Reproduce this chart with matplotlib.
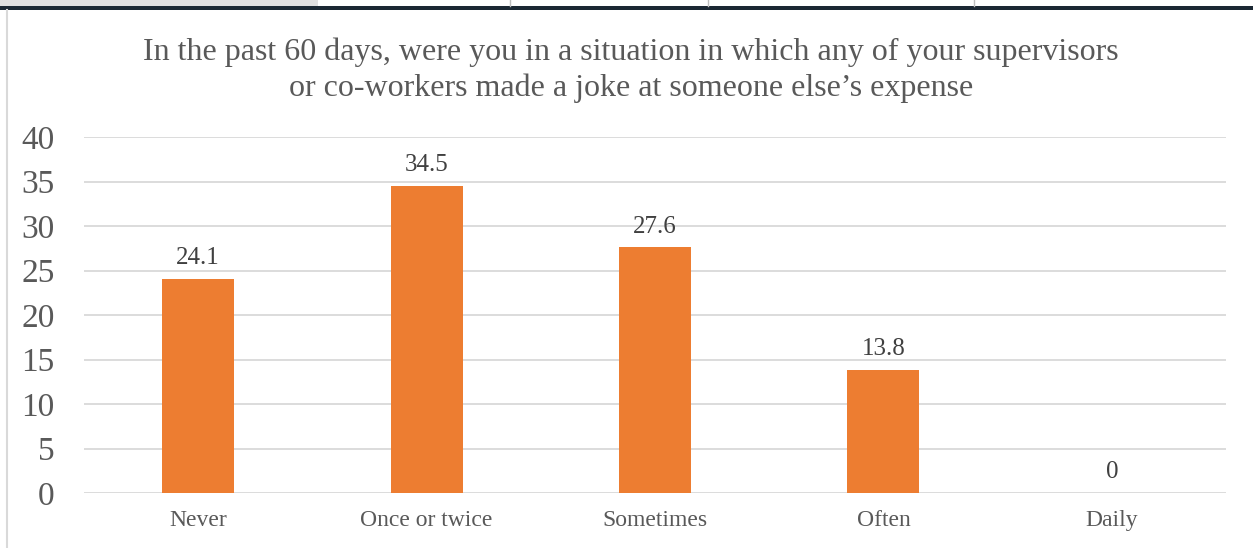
import numpy as np
import matplotlib.pyplot as plt
from matplotlib.patches import Rectangle
from matplotlib.lines import Line2D

categories = ['Never', 'Once or twice', 'Sometimes', 'Often', 'Daily']
values = [24.1, 34.5, 27.6, 13.8, 0]
yticks = [0, 5, 10, 15, 20, 25, 30, 35, 40]

title = ("In the past 60 days, were you in a situation in which any of your supervisors\n"
         "or co-workers made a joke at someone else\u2019s expense")

W, H = 1253, 548
bar_color = '#ED7D31'
grid_color = '#D9D9D9'
text_color = '#595959'

plt.rcParams['font.family'] = ['Liberation Serif', 'DejaVu Serif']

fig = plt.figure(figsize=(W / 100, H / 100), dpi=100)

# page strip above the chart frame
fig.add_artist(Rectangle((0, 1 - 6 / H), 318 / W, 6 / H, transform=fig.transFigure,
                         facecolor='#E0E0E0', edgecolor='none'))
fig.add_artist(Rectangle((0, 1 - 9.5 / H), 1, 3.5 / H, transform=fig.transFigure,
                         facecolor='#1B2833', edgecolor='none'))
for xs in [510, 708, 974]:
    fig.add_artist(Line2D([xs / W, xs / W], [1 - 6 / H, 1], transform=fig.transFigure,
                          color='#BFBFBF', lw=1))
fig.add_artist(Line2D([6.5 / W, 6.5 / W], [0, 1 - 10 / H], transform=fig.transFigure,
                      color='#D9D9D9', lw=1.5))

# axes: x 84..1226 px, y 137..493 px
ax = fig.add_axes([84 / W, 1 - 493 / H, (1226 - 84) / W, (493 - 137) / H])
x = np.arange(len(categories))
bars = ax.bar(x, values, width=0.315, color=bar_color, zorder=3)

ax.set_xlim(-0.5, len(categories) - 0.5)
ax.set_ylim(0, 40)
ax.set_yticks(yticks)
ax.set_xticks(x)
ax.set_xticklabels(categories, fontsize=17, color=text_color)
ax.tick_params(axis='y', labelsize=24, labelcolor=text_color, length=0, pad=21)
ax.tick_params(axis='x', length=0, pad=12)
ax.grid(axis='y', color=grid_color, lw=1.3, zorder=0)
for s in ax.spines.values():
    s.set_visible(False)

for xi, v in zip(x, values):
    ax.text(xi, v + 1.1, f'{v:g}', ha='center', va='bottom', fontsize=18, color='#404040')

fig.text(631 / W, 1 - 70 / H, title, ha='center', va='center', fontsize=23,
         color=text_color, linespacing=1.28)

fig.savefig('out.png', dpi=100)
